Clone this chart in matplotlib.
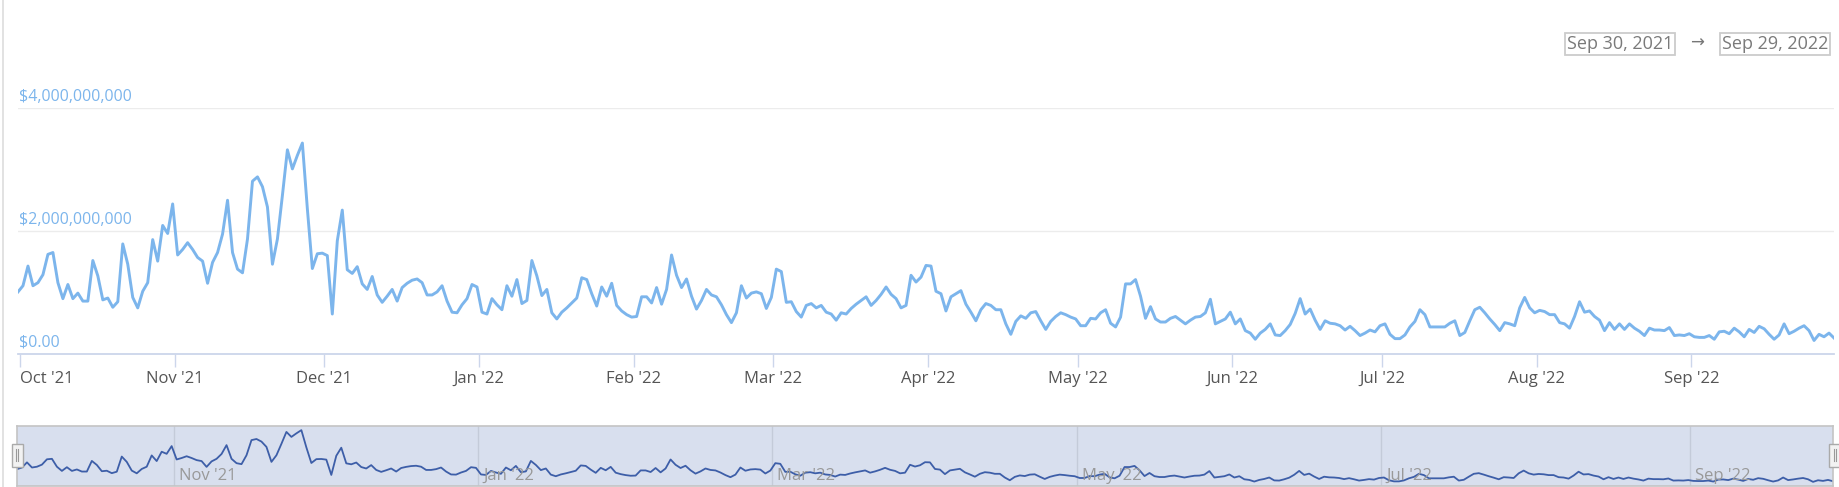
import pandas as pd
import matplotlib.pyplot as plt
from matplotlib.patches import Rectangle
from matplotlib.lines import Line2D

# daily volume in billions of USD, Sep 30 2021 -> Sep 29 2022
vol_q4 = [1.01, 1.11, 1.43, 1.11, 1.16, 1.29, 1.62, 1.65, 1.16, 0.90,
          1.13, 0.90, 0.99, 0.86, 0.86, 1.52, 1.27, 0.88, 0.91, 0.76,
          0.85, 1.79, 1.46, 0.92, 0.75, 1.02, 1.16, 1.86, 1.51, 2.09,
          1.96, 2.44, 1.61, 1.70, 1.81, 1.70, 1.57, 1.51, 1.15, 1.49,
          1.65, 1.95, 2.50, 1.65, 1.38, 1.32, 1.87, 2.81, 2.88, 2.72,
          2.39, 1.46, 1.87, 2.58, 3.32, 3.01, 3.23, 3.43, 2.36, 1.39,
          1.63, 1.64, 1.60, 0.65, 1.84, 2.34, 1.37, 1.31, 1.42, 1.14,
          1.05, 1.26, 0.96, 0.84, 0.94, 1.05, 0.86, 1.08, 1.15, 1.20,
          1.22, 1.16, 0.96, 0.96, 1.01, 1.11, 0.86, 0.68, 0.67, 0.80,
          0.90]
vol_q1 = [1.13, 1.09, 0.68, 0.65, 0.90, 0.80, 0.72, 1.11, 0.94, 1.21,
          0.82, 0.87, 1.52, 1.27, 0.95, 1.05, 0.67, 0.57, 0.68, 0.75,
          0.83, 0.91, 1.24, 1.21, 0.98, 0.78, 1.09, 0.94, 1.15, 0.79,
          0.70, 0.64, 0.60, 0.61, 0.93, 0.93, 0.83, 1.08, 0.81, 1.05,
          1.61, 1.28, 1.08, 1.22, 0.94, 0.73, 0.87, 1.05, 0.96, 0.93,
          0.80, 0.64, 0.51, 0.67, 1.11, 0.91, 0.99, 1.01, 0.98, 0.74,
          0.92, 1.38, 1.34, 0.84, 0.85, 0.69, 0.60, 0.79, 0.82, 0.75,
          0.79, 0.68, 0.65, 0.55, 0.67, 0.65, 0.74, 0.81, 0.87, 0.93,
          0.79, 0.87, 0.97, 1.09, 0.97, 0.90, 0.75, 0.79, 1.28, 1.17,
          1.25, 1.44]
vol_q2 = [1.43, 1.02, 0.98, 0.70, 0.93, 0.98, 1.03, 0.81, 0.68, 0.54,
          0.72, 0.82, 0.79, 0.72, 0.72, 0.49, 0.32, 0.53, 0.62, 0.58,
          0.67, 0.69, 0.54, 0.40, 0.53, 0.61, 0.67, 0.64, 0.60, 0.57,
          0.46, 0.46, 0.58, 0.57, 0.67, 0.72, 0.50, 0.44, 0.60, 1.14,
          1.14, 1.21, 0.94, 0.58, 0.77, 0.57, 0.52, 0.52, 0.58, 0.61,
          0.55, 0.49, 0.55, 0.60, 0.61, 0.67, 0.89, 0.49, 0.53, 0.57,
          0.68, 0.49, 0.57, 0.38, 0.34, 0.24, 0.34, 0.40, 0.49, 0.31,
          0.30, 0.38, 0.48, 0.66, 0.90, 0.65, 0.73, 0.55, 0.40, 0.54,
          0.50, 0.49, 0.46, 0.39, 0.45, 0.38, 0.30, 0.34, 0.39, 0.36,
          0.46, 0.49]
vol_q3 = [0.32, 0.25, 0.25, 0.31, 0.44, 0.53, 0.72, 0.64, 0.44, 0.44,
          0.44, 0.44, 0.50, 0.54, 0.30, 0.35, 0.54, 0.72, 0.76, 0.67,
          0.57, 0.48, 0.38, 0.51, 0.49, 0.46, 0.75, 0.92, 0.75, 0.67,
          0.71, 0.69, 0.64, 0.64, 0.51, 0.49, 0.42, 0.61, 0.85, 0.68,
          0.70, 0.61, 0.55, 0.38, 0.51, 0.40, 0.49, 0.40, 0.49, 0.42,
          0.37, 0.30, 0.42, 0.39, 0.39, 0.38, 0.43, 0.30, 0.31, 0.30,
          0.33, 0.28, 0.27, 0.27, 0.30, 0.24, 0.36, 0.37, 0.33, 0.42,
          0.36, 0.28, 0.40, 0.35, 0.45, 0.41, 0.32, 0.24, 0.31, 0.49,
          0.33, 0.37, 0.42, 0.46, 0.38, 0.22, 0.32, 0.28, 0.34, 0.26]

volume = pd.Series(vol_q4 + vol_q1 + vol_q2 + vol_q3) * 1e9
dates = pd.date_range('2021-09-30 14:00', periods=len(volume), freq='D')

month_ticks = pd.date_range('2021-10-01', '2022-09-01', freq='MS')
nav_ticks = month_ticks[1::2]
y_ticks = [0, 2e9, 4e9]
y_labels = ['$0.00', '$2,000,000,000', '$4,000,000,000']
range_start = 'Sep 30, 2021'
range_end = 'Sep 29, 2022'

W, H = 1839, 487
plt.rcParams['font.family'] = ['Open Sans', 'DejaVu Sans']


def rect(x0, y0, x1, y1):
    return [x0 / W, 1 - y1 / H, (x1 - x0) / W, (y1 - y0) / H]


fig = plt.figure(figsize=(W / 100, H / 100), dpi=100)

# main chart
ax = fig.add_axes(rect(18, 108, 1834, 354))
ax.plot(dates, volume, color='#7cb5ec', lw=2.1)
ax.set_xlim(dates[0], dates[-1])
ax.set_ylim(0, 4e9)
for s in ['top', 'right', 'left']:
    ax.spines[s].set_visible(False)
ax.spines['bottom'].set_color('#ccd6eb')
ax.spines['bottom'].set_linewidth(1.3)
ax.set_yticks(y_ticks[1:])
ax.tick_params(axis='y', length=0, labelleft=False)
ax.grid(axis='y', color='#ececec', lw=1)
ax.set_xticks(month_ticks)
ax.set_xticklabels([d.strftime("%b '%y") for d in month_ticks])
ax.tick_params(axis='x', length=9, width=1, color='#ccd6eb', colors='#ccd6eb',
               labelcolor='#555555', labelsize=12, pad=3)
ax.get_xticklabels()[0].set_horizontalalignment('left')
for v, lab in zip(y_ticks, y_labels):
    ax.annotate(lab, xy=(0, v), xycoords=('axes fraction', 'data'),
                xytext=(1, 3), textcoords='offset pixels', ha='left', va='bottom',
                color='#7cb5ec', fontsize=11.5)

# navigator
nav = fig.add_axes(rect(17, 426, 1833, 486))
nav.set_facecolor('#d8dfee')
nav.plot(dates, volume, color='#3d5ea8', lw=1.3)
nav.set_xlim(dates[0], dates[-1])
pad = 0.08 * (volume.max() - volume.min())
nav.set_ylim(volume.min() - pad, volume.max() + pad)
nav.set_yticks([])
nav.set_xticks([])
for s in nav.spines.values():
    s.set_color('#c4c4c4')
    s.set_linewidth(1.2)
for d in nav_ticks:
    nav.axvline(d, color='#c4cbd9', lw=1, zorder=0.5)
    nav.annotate(d.strftime("%b '%y"), xy=(d, 0), xycoords=('data', 'axes fraction'),
                 xytext=(5, 2), textcoords='offset pixels', ha='left', va='bottom',
                 color='#999999', fontsize=12)

# navigator handles
for hx in [11.5, 1829]:
    fig.add_artist(Rectangle((hx / W, 1 - 467 / H), 11 / W, 23 / H, transform=fig.transFigure,
                             facecolor='#f2f2f2', edgecolor='#aaaaaa', lw=1))
    for off in [4.5, 6.5]:
        fig.add_artist(Line2D([(hx + off) / W] * 2, [1 - 461 / H, 1 - 449 / H],
                              transform=fig.transFigure, color='#999999', lw=0.8))

# left border
fig.add_artist(Line2D([2.5 / W] * 2, [0, 1], transform=fig.transFigure, color='#dddddd', lw=1.2))

# date range boxes
box_style = dict(boxstyle='square,pad=0.12', facecolor='white', edgecolor='#cccccc', lw=1.3)
fig.text(1620 / W, 1 - 44 / H, range_start, ha='center', va='center', fontsize=13,
         color='#7a7a7a', bbox=box_style)
fig.text(1697 / W, 1 - 44 / H, '\u2192', ha='center', va='center', fontsize=12,
         color='#777777')
fig.text(1775 / W, 1 - 44 / H, range_end, ha='center', va='center', fontsize=13,
         color='#7a7a7a', bbox=box_style)

fig.savefig('out.png', dpi=100)
